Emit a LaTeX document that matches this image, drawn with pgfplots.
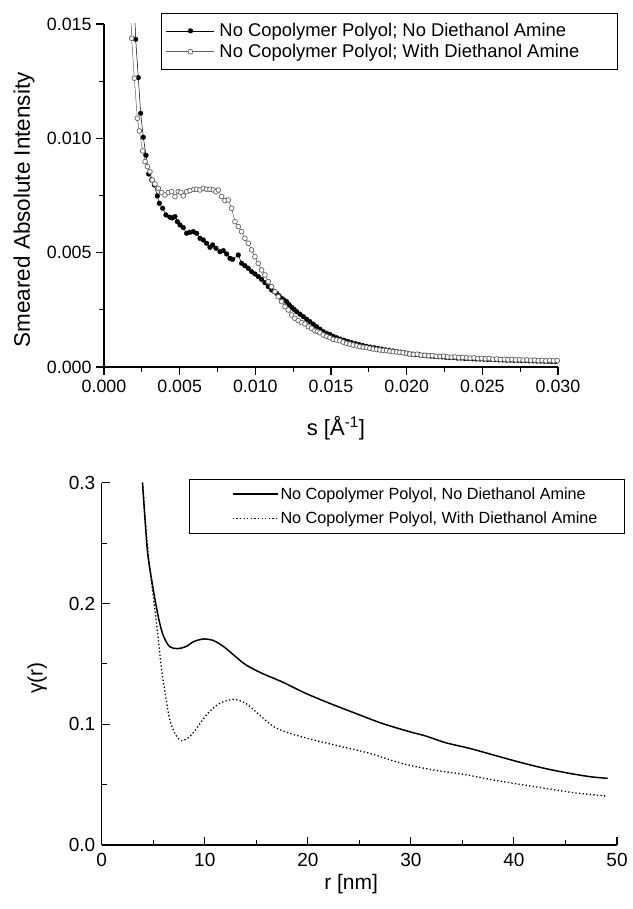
\documentclass[border=0pt]{standalone}
\usepackage{pgfplots}
\pgfplotsset{compat=1.18}
\usepackage{fontspec}
\setmainfont{Liberation Sans}
\definecolor{opengray}{gray}{0.38}
\begin{document}
\begin{tikzpicture}[x=1pt,y=1pt]
\path[use as bounding box] (0,0) rectangle (632,909);
% ---------------- top panel ----------------
\begin{axis}[
  at={(104pt,542pt)}, anchor=south west,
  scale only axis, width=454pt, height=343pt,
  xmin=0, xmax=0.030, ymin=0, ymax=0.015,
  axis lines*=left,
  axis line style={line width=1.1pt},
  tick align=outside,
  major tick length=8pt, minor tick length=5pt,
  tick style={black, line width=1.1pt},
  xtick={0,0.005,0.010,0.015,0.020,0.025,0.030},
  ytick={0,0.005,0.010,0.015},
  minor x tick num=1, minor y tick num=1,
  scaled ticks=false,
  xticklabel={\pgfmathprintnumber[fixed,fixed zerofill,precision=3,assume math mode=true]{\tick}},
  yticklabel={\pgfmathprintnumber[fixed,fixed zerofill,precision=3,assume math mode=true]{\tick}},
  tick label style={font=\fontsize{17.8}{20}\selectfont},
  xticklabel style={yshift=-2pt},
  yticklabel style={xshift=-1pt},
  xlabel={s [Å\textsuperscript{-1}]},
  ylabel={Smeared Absolute Intensity},
  xlabel style={at={(axis description cs:0.511,-0.178)}, anchor=center, font=\fontsize{22}{26}\selectfont},
  ylabel style={at={(axis description cs:-0.176,0.458)}, anchor=center, font=\fontsize{22.5}{26}\selectfont},
  legend style={at={(axis description cs:1.132,1.032)}, anchor=north east, font=\fontsize{18.4}{22}\selectfont,
    draw=black, line width=0.9pt, inner xsep=2pt, inner ysep=8pt, row sep=2pt, cells={anchor=west}},
  legend cell align=left,
  legend image code/.code={\path[draw=none,fill=none] (-3pt,0pt) -- (51pt,0pt);
    \draw[mark repeat=2,mark phase=2,#1] plot coordinates {(0pt,0pt) (24pt,0pt) (48pt,0pt)};},
]
\addplot[black, line width=0.5pt, mark=*, mark size=2.4pt, mark options={fill=black, draw=black, line width=0.3pt}] table {
x y
0.00195 0.01700
0.002092 0.014332
0.002268 0.012656
0.002422 0.011095
0.002598 0.010046
0.002774 0.009258
0.002950 0.008442
0.003148 0.008179
0.003324 0.007961
0.003523 0.007480
0.003655 0.007159
0.003875 0.006940
0.004095 0.006648
0.004359 0.006547
0.004520 0.006520
0.004690 0.006576
0.004844 0.006357
0.005020 0.006211
0.005240 0.006094
0.005460 0.005847
0.005680 0.005890
0.005900 0.005920
0.006121 0.005847
0.006341 0.005628
0.006561 0.005555
0.006781 0.005409
0.007001 0.005234
0.007177 0.005336
0.007398 0.005191
0.007662 0.005045
0.007882 0.005088
0.008102 0.004943
0.008322 0.004753
0.008498 0.004709
0.008873 0.004899
0.009093 0.004535
0.009313 0.004432
0.009533 0.004316
0.009753 0.004170
0.009974 0.004068
0.010194 0.003951
0.010414 0.003835
0.010634 0.003689
0.010854 0.003514
0.011074 0.003368
0.011250 0.003300
0.011405 0.003222
0.011570 0.003110
0.011735 0.003004
0.011900 0.002930
0.012065 0.002858
0.012230 0.002730
0.012396 0.002610
0.012560 0.002520
0.012726 0.002420
0.012950 0.002310
0.013166 0.002202
0.013390 0.002090
0.013606 0.001983
0.013830 0.001870
0.014047 0.001764
0.014270 0.001650
0.014487 0.001545
0.014707 0.001473
0.01493 0.00142
0.01515 0.00134
0.01537 0.00128
0.01560 0.00122
0.01585 0.00117
0.01610 0.00112
0.01635 0.00107
0.01660 0.00102
0.01685 0.00098
0.01710 0.00094
0.01735 0.00090
0.01760 0.00087
0.01785 0.00084
0.01810 0.00081
0.01835 0.00078
0.01860 0.00075
0.01885 0.00073
0.01910 0.00070
0.01935 0.00067
0.01960 0.00065
0.01985 0.00062
0.02010 0.00058
0.02035 0.00056
0.02060 0.00054
0.02085 0.00053
0.02110 0.00051
0.02135 0.00049
0.02160 0.00048
0.02185 0.00046
0.02210 0.00045
0.02235 0.00044
0.02260 0.00042
0.02285 0.00041
0.02310 0.00041
0.02335 0.00039
0.02360 0.00039
0.02385 0.00037
0.02410 0.00037
0.02435 0.00036
0.02460 0.00035
0.02485 0.00035
0.02510 0.00034
0.02535 0.00033
0.02560 0.00033
0.02585 0.00032
0.02610 0.00031
0.02635 0.00031
0.02660 0.00030
0.02685 0.00030
0.02710 0.00029
0.02735 0.00029
0.02760 0.00028
0.02785 0.00028
0.02810 0.00027
0.02835 0.00027
0.02860 0.00026
0.02885 0.00026
0.02910 0.00025
0.02935 0.00025
0.02960 0.00024
0.02985 0.00024
};
\addlegendentry{\parbox[t]{394pt}{No Copolymer Polyol{;} No Diethanol Amine}}
\addplot[opengray, line width=0.5pt, mark=*, mark size=2.4pt, mark options={fill=white, draw=opengray, line width=0.7pt}] table {
x y
0.00170 0.01700
0.001827 0.014376
0.002004 0.012627
0.002202 0.010877
0.002334 0.010323
0.002554 0.009448
0.002708 0.008981
0.002862 0.008763
0.003038 0.008544
0.003192 0.008179
0.003369 0.008004
0.003589 0.007815
0.003809 0.007625
0.004029 0.007523
0.004249 0.007625
0.004469 0.007669
0.004690 0.007450
0.004910 0.007669
0.005080 0.007640
0.005240 0.007480
0.005460 0.007669
0.005680 0.007713
0.005945 0.007771
0.006121 0.007771
0.006341 0.007742
0.006561 0.007815
0.006781 0.007771
0.007001 0.007771
0.007221 0.007742
0.007398 0.007669
0.007552 0.007742
0.007772 0.007450
0.007992 0.007276
0.008212 0.007305
0.008432 0.006940
0.008653 0.006357
0.008873 0.006138
0.009093 0.005920
0.009313 0.005628
0.009533 0.005409
0.009753 0.005118
0.009974 0.004826
0.010194 0.004535
0.010414 0.004243
0.010634 0.004024
0.010854 0.003732
0.011074 0.003514
0.011295 0.003295
0.011515 0.003076
0.011735 0.002858
0.011955 0.002639
0.012175 0.002493
0.012396 0.002274
0.012616 0.002129
0.012836 0.002027
0.013056 0.001939
0.013276 0.001881
0.013496 0.001764
0.013716 0.001691
0.013937 0.001589
0.014100 0.001550
0.014267 0.001502
0.014487 0.001400
0.014707 0.001340
0.014927 0.001280
0.015147 0.001210
0.015367 0.001180
0.015588 0.001152
0.015808 0.001090
0.016028 0.001035
0.016248 0.001000
0.016468 0.000962
0.016688 0.000925
0.016909 0.000889
0.017129 0.000865
0.017349 0.000846
0.017569 0.000815
0.017789 0.000787
0.018010 0.000765
0.018230 0.000744
0.018450 0.000730
0.018670 0.000715
0.018890 0.000690
0.019110 0.000671
0.019330 0.000655
0.019550 0.000641
0.019770 0.000620
0.019991 0.000598
0.02020 0.00057
0.02045 0.00055
0.02070 0.00056
0.02095 0.00052
0.02120 0.00051
0.02145 0.00049
0.02170 0.00050
0.02195 0.00047
0.02220 0.00046
0.02245 0.00047
0.02270 0.00044
0.02295 0.00043
0.02320 0.00044
0.02345 0.00041
0.02370 0.00042
0.02395 0.00040
0.02420 0.00039
0.02445 0.00040
0.02470 0.00037
0.02495 0.00038
0.02520 0.00036
0.02545 0.00037
0.02570 0.00034
0.02595 0.00035
0.02620 0.00033
0.02645 0.00034
0.02670 0.00032
0.02695 0.00033
0.02720 0.00031
0.02745 0.00032
0.02770 0.00030
0.02795 0.00031
0.02820 0.00029
0.02845 0.00030
0.02870 0.00028
0.02895 0.00029
0.02920 0.00027
0.02945 0.00029
0.02970 0.00027
0.02995 0.00028
};
\addlegendentry{\parbox[t]{394pt}{No Copolymer Polyol{;} With Diethanol Amine}}
\end{axis}
% ---------------- bottom panel ----------------
\begin{axis}[
  at={(101.7pt,64pt)}, anchor=south west,
  scale only axis, width=515.3pt, height=362.3pt,
  xmin=0, xmax=50, ymin=0, ymax=0.3,
  axis lines*=left,
  axis line style={line width=1.1pt},
  tick align=inside,
  major tick length=8pt, minor tick length=5pt,
  tick style={black, line width=1.1pt},
  xtick={0,10,20,30,40,50},
  ytick={0,0.1,0.2,0.3},
  minor x tick num=1, minor y tick num=1,
  scaled ticks=false,
  xticklabel={\pgfmathprintnumber[assume math mode=true]{\tick}},
  yticklabel={\pgfmathprintnumber[fixed,fixed zerofill,precision=1,assume math mode=true]{\tick}},
  tick label style={font=\fontsize{19}{22}\selectfont},
  xticklabel style={yshift=-5pt},
  yticklabel style={xshift=-3pt},
  xlabel={r [nm]},
  ylabel={γ(r)},
  xlabel style={at={(axis description cs:0.484,-0.108)}, anchor=center, font=\fontsize{21}{24}\selectfont},
  ylabel style={at={(axis description cs:-0.125,0.461)}, anchor=center, font=\fontsize{21}{24}\selectfont},
  legend style={at={(axis description cs:1.0155,1.010)}, anchor=north east, font=\fontsize{16.2}{24}\selectfont,
    draw=black, line width=0.9pt, inner xsep=2pt, inner ysep=6pt, row sep=7pt, cells={anchor=west}},
  legend cell align=left,
  legend image code/.code={\path[draw=none,fill=none] (-41pt,0pt) -- (0pt,0pt); \draw[#1] (0pt,0pt) -- (45pt,0pt);},
]
\addplot[black, line width=1.5pt, smooth, tension=0.5] table {
x y
3.96 0.3000
4.20 0.2700
4.46 0.2415
4.85 0.2194
5.24 0.2001
5.63 0.1836
6.02 0.1725
6.60 0.1642
7.37 0.1626
8.15 0.1642
8.93 0.1684
9.90 0.1706
10.87 0.1692
11.84 0.1642
12.81 0.1573
13.78 0.1504
14.75 0.1455
15.91 0.1408
17.47 0.1352
19.79 0.1256
22.12 0.1173
24.45 0.1096
27.17 0.1008
29.88 0.0938
31.43 0.0903
33.37 0.0847
35.70 0.0800
38.03 0.0745
40.36 0.0690
42.69 0.0640
45.02 0.0599
47.35 0.0566
49.10 0.0552
};
\addlegendentry{\parbox[t]{340pt}{No Copolymer Polyol, No Diethanol Amine}}
\addplot[black, line width=1.3pt, dash pattern=on 1.3pt off 2.3pt, smooth, tension=0.5] table {
x y
3.96 0.3000
4.30 0.2620
4.58 0.2360
4.97 0.2084
5.43 0.1753
5.82 0.1449
6.21 0.1228
6.60 0.1040
7.18 0.0911
7.76 0.0864
8.54 0.0897
9.32 0.0980
10.29 0.1090
11.45 0.1173
12.81 0.1206
13.97 0.1173
15.14 0.1090
16.69 0.0980
18.24 0.0925
20.57 0.0870
23.29 0.0814
26.00 0.0759
29.11 0.0676
32.21 0.0621
34.93 0.0588
37.65 0.0544
40.36 0.0505
43.08 0.0469
45.80 0.0433
48.90 0.0406
};
\addlegendentry{\parbox[t]{340pt}{No Copolymer Polyol, With Diethanol Amine}}
\end{axis}
\end{tikzpicture}
\end{document}
